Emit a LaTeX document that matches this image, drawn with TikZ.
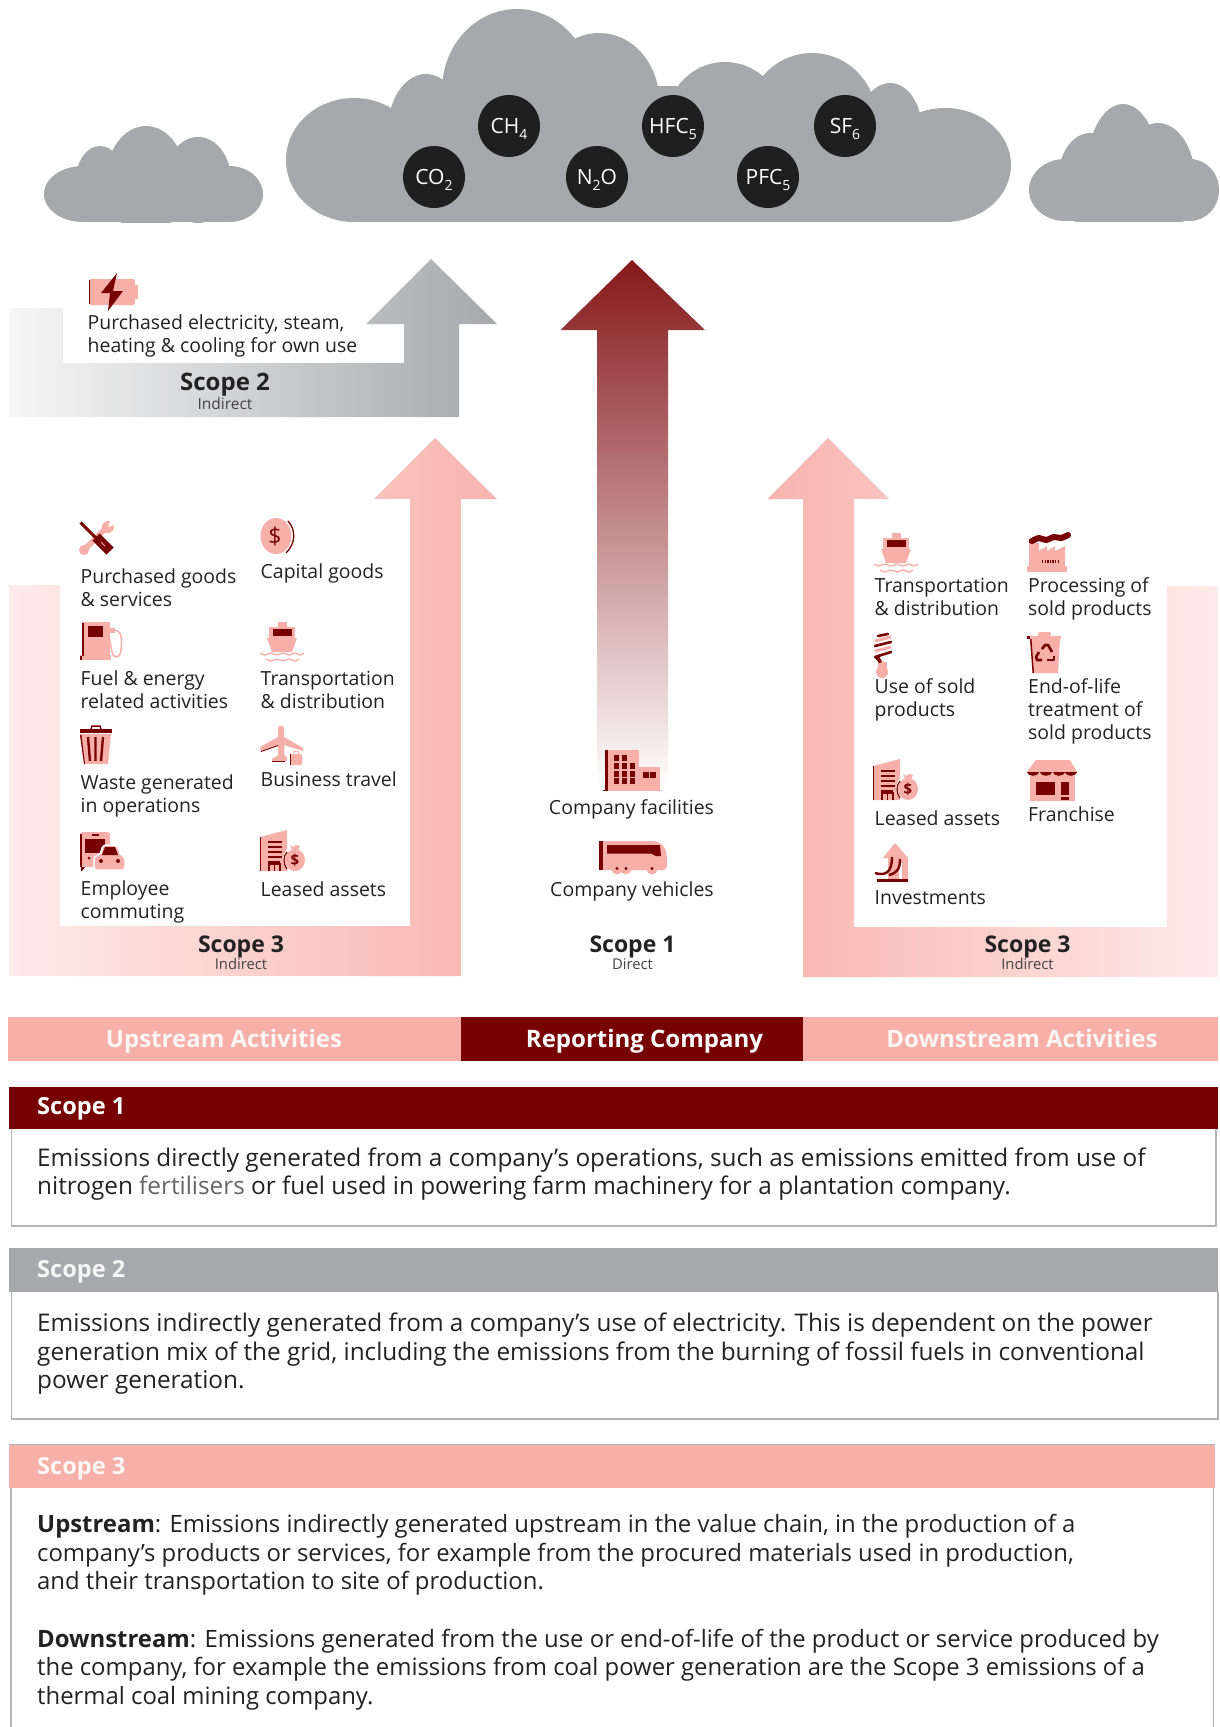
\documentclass[tikz,border=0pt]{standalone}
\usepackage{fontspec}
\setmainfont{Open Sans}
\definecolor{cpale}{HTML}{F7AFA9}
\definecolor{cdark}{HTML}{770000}
\definecolor{cshaft}{HTML}{85181B}
\definecolor{cg}{HTML}{A7A8AB}
\definecolor{tx}{HTML}{222222}
\definecolor{ln}{HTML}{B3B4B6}
\newcommand\gs[1]{\raisebox{-0.3em}[0pt][0pt]{\fontsize{14}{14}\selectfont #1}}
\tikzset{
 x=1pt,y=-1pt,
 lab/.style={anchor=base west,inner sep=0pt,align=left,text=tx,font=\fontsize{19.45}{22.6}\selectfont},
 bodytxt/.style={anchor=base west,inner sep=0pt,align=left,text=tx,font=\fontsize{24.33}{28.4}\selectfont},
 bodytxtb/.style={anchor=base west,inner sep=0pt,align=left,text=tx,font=\fontsize{23.88}{28.4}\selectfont},
 gas/.style={circle,fill=black!88,text=white,minimum size=62pt,inner sep=0pt,font=\fontsize{21}{24}\selectfont},
 scopett/.style={anchor=base,inner sep=0pt,text=tx,font=\bfseries\fontsize{23}{28}\selectfont},
 scopesub/.style={anchor=base,inner sep=0pt,text=tx!85,font=\fontsize{14.8}{18}\selectfont},
 bartxt/.style={anchor=base,inner sep=0pt,text=white,font=\bfseries\fontsize{24}{28}\selectfont},
 headtxt/.style={anchor=base west,inner sep=0pt,text=white,font=\bfseries\fontsize{23.6}{28}\selectfont},
 ibatt/.pic={
  \fill[cpale,rounded corners=2] (1,6) rectangle (47,32);
  \fill[cpale] (47,12) rectangle (50,26);
  \fill[cdark] (1,7) rectangle (2,31);
  \fill[cdark] (29,0) -- (13,20) -- (22,20) -- (20,38) -- (35,18) -- (25,18) -- cycle;
 },
 itools/.pic={
  \draw[cpale,line width=5.5,line cap=round] (3,30) -- (27,6);
  \fill[cpale] (28,6) circle (6);
  \fill[white] (28,6) -- (31,-2) -- (37,3) -- cycle;
  \fill[cpale] (4,29) circle (5);
  \draw[cdark,line width=3] (0.5,1.5) -- (18,19);
  \draw[cdark,line width=10] (16,16) -- (30,30);
  \draw[cpale,line width=1] (21,21) -- (25,25);
 },
 icoin/.pic={
  \fill[cpale] (16,18) ellipse [x radius=15.5,y radius=18];
  \draw[cdark,line width=1.3] (28,3) .. controls (36,12) and (36,25) .. (26,35);
  \node[inner sep=0pt,text=cdark,font=\fontsize{23}{23}\selectfont] (d) at (15,18) {\$};
 },
 ifuel/.pic={
  \fill[cpale] (2,0) rectangle (30,36);
  \fill[cpale] (0,33) rectangle (31,38);
  \fill[cdark] (2,1) rectangle (3.5,34);
  \fill[cdark] (0,34) rectangle (2,38);
  \fill[cdark] (8,4) rectangle (23,15);
  \fill[cpale] (28,6) rectangle (35,11);
  \draw[cpale,line width=1.5] (33,8) .. controls (43,8) and (42,18) .. (41,28) .. controls (40,38) and (33,36) .. (32,30) -- (29,14);
 },
 iship/.pic={
  \fill[cpale] (18,0) rectangle (27,6);
  \fill[cpale] (9,5) rectangle (35,17);
  \fill[cdark] (13,7) rectangle (32,14);
  \fill[cpale] (7,16) -- (37,16) -- (32,30) -- (12,30) -- cycle;
  \draw[cpale,line width=1.4] plot[smooth] coordinates {(0,31) (5,33) (11,31) (17,33) (23,31) (29,33) (35,31) (40,33) (44,31)};
  \draw[cpale,line width=1.4] plot[smooth] coordinates {(6,37) (11,39) (17,37) (23,39) (29,37) (35,39) (39,37)};
 },
 itrash/.pic={
  \draw[cdark,line width=1.5] (11,4) -- (12,1) -- (20,1) -- (21,4);
  \fill[cdark] (0,4) rectangle (32,8);
  \fill[cpale] (0,9) -- (31,9) -- (28,39) -- (4,39) -- cycle;
  \fill[cdark] (0,10) -- (1.5,10) -- (5,39) -- (4,39) -- cycle;
  \draw[cdark,line width=2.4] (8,12) -- (10,36) (15.5,12) -- (15.5,36) (23,12) -- (21,36);
 },
 iplane/.pic={
  \fill[cpale,rounded corners=2.5] (18,0) -- (21,-0.5) -- (24,0) -- (24.5,33) -- (18,33) -- cycle;
  \fill[cpale] (0,21) -- (18,11) -- (24,11) -- (43,22) -- (43,25) -- (24,19) -- (18,19) -- (1,25) -- cycle;
  \fill[cpale] (12,33) -- (20,28) -- (23,28) -- (29,33) -- (29,35) -- (12,35) -- cycle;
  \draw[cdark,line width=0.9] (1,25.5) -- (18,19.5);
  \draw[cdark,line width=0.9] (12,35.5) -- (25,35.5);
  \fill[white] (27,26) rectangle (44,41);
  \fill[cpale,rounded corners=1] (30,28) rectangle (42,39);
  \fill[cdark] (30,28) rectangle (31,39);
  \draw[cpale,line width=1] (33,28) -- (34,25.5) -- (38,25.5) -- (39,28);
 },
 icommute/.pic={
  \fill[cpale,rounded corners=3] (0,1) rectangle (30,36);
  \fill[cdark] (0,3) rectangle (2,36);
  \fill[cdark] (1,36) -- (5,36) -- (2,40) -- (1,40) -- cycle;
  \fill[cdark] (5,8) rectangle (25,22);
  \fill[cdark] (12,3) rectangle (19,5);
  \fill[cdark] (9,27) circle (1.5);
  \fill[cpale,draw=white,line width=1.5,rounded corners=3] (14,39) -- (14,25) -- (20,24) -- (23,14) -- (37,14) -- (41,24) -- (45,26) -- (45,39) -- cycle;
  \fill[cdark] (25,16) -- (35,16) -- (38,24) -- (22,24) -- cycle;
  \fill[cdark] (21,30) circle (2);
  \fill[cdark] (38,30) circle (2);
 },
 ileased/.pic={
  \fill[cpale] (0,7) -- (27,0) -- (27,41) -- (0,41) -- cycle;
  \fill[cdark] (0,7) rectangle (1,41);
  \draw[cdark,line width=1.5] (8,12) -- (22,12) (8,17) -- (22,17) (8,22) -- (22,22) (8,27) -- (22,27) (8,32) -- (20,32);
  \draw[cdark,line width=1.2] (9,41) -- (9,34) -- (20,34) -- (20,41) (14.5,34) -- (14.5,41);
  \fill[white] (35,29) ellipse [x radius=12,y radius=13];
  \fill[cpale] (35,30) ellipse [x radius=10,y radius=11];
  \fill[cpale] (30,15) -- (33,17) -- (36,15) -- (40,16) -- (37,22) -- (33,22) -- cycle;
  \draw[cdark,line width=1.2] (27,22) .. controls (23,26) and (23,34) .. (27,39);
  \node[inner sep=0pt,text=cdark,font=\bfseries\fontsize{15}{15}\selectfont] (d) at (35,30) {\$};
 },
 ifactory/.pic={
  \fill[cpale] (2,12) -- (12,12) -- (12,20) -- (20,15) -- (20,20) -- (28,15) -- (28,20) -- (38,15) -- (38,36) -- (2,36) -- cycle;
  \fill[cpale,rounded corners=1] (0,35) rectangle (40,41);
  \draw[cdark,line width=6,line cap=round] plot[smooth] coordinates {(5,10) (12,7) (19,9) (27,6) (34,7) (41,4)};
  \fill[cdark] (2,8) rectangle (6,12);
  \draw[cdark,line width=3,dash pattern=on 1.3pt off 1.3pt] (15,30) -- (33,30);
 },
 ibulb/.pic={
  \fill[cpale] (8,40) circle (6);
  \fill[cpale] (4,30) rectangle (13,38);
  \draw[cdark,line width=2.6,line cap=round] (4,4) -- (14,2);
  \draw[cpale,line width=3] (1,9) -- (17,5);
  \draw[cdark,line width=2.6,line cap=round] (1,14) -- (17,10);
  \draw[cpale,line width=3] (1,19) -- (17,15);
  \draw[cdark,line width=2.6,line cap=round] (1,25) -- (17,20);
  \fill[cdark] (1,26) -- (5,24) -- (8,30) -- (5,31) -- cycle;
 },
 irecycle/.pic={
  \fill[cpale,rounded corners=2] (11,0) rectangle (24,5);
  \fill[cpale] (0,3.5) rectangle (34,7);
  \fill[cdark] (0,3.5) rectangle (3,7);
  \fill[cpale] (3,7) -- (33,7) -- (31,41) -- (6,41) -- cycle;
  \fill[cdark] (3,7) -- (4.5,7) -- (7,41) -- (5.5,41) -- cycle;
  \draw[cdark,line width=2.6,line join=round] (15,17) -- (18,13) -- (21,13) -- (25,20);
  \draw[cdark,line width=2.6,line join=round] (27,24) -- (27,28) -- (20,28);
  \draw[cdark,line width=2.6,line join=round] (15,28) -- (10,28) -- (9,25) -- (12,20);
 },
 ifranchise/.pic={
  \fill[cpale] (9,0) -- (43,0) -- (50,12) -- (0,12) -- cycle;
  \fill[cpale] (3,13) rectangle (48,41);
  \foreach \q in {6,19,32,44}{\fill[cdark] (\q-6.3,12) -- (\q+6.3,12) .. controls (\q+5,17) and (\q-5,17) .. (\q-6.3,12) -- cycle;}
  \fill[cdark] (9,22) rectangle (28,35);
  \fill[cdark] (34,22) rectangle (42,35);
  \fill[cdark] (34,37) rectangle (42,40);
 },
 iinvest/.pic={
  \fill[cpale] (20,0) -- (33,15) -- (8,15) -- cycle;
  \fill[cpale] (13,15) rectangle (33,36);
  \fill[white] (24,20) rectangle (27,36);
  \fill[cdark] (2,36) rectangle (33,39);
  \draw[cdark,line width=2.4] (0,30) .. controls (10,33) and (17,30) .. (17,14);
  \draw[cdark,line width=2.4] (25,16) .. controls (25,26) and (22,30) .. (14,32);
 },
 ibuilding/.pic={
  \fill[cpale] (2,0) rectangle (36,40);
  \fill[cpale] (36,17) rectangle (57,40);
  \fill[cpale] (0,39.5) rectangle (59,41);
  \fill[cdark] (2,0) rectangle (5,40);
  \fill[cdark] (0,40) rectangle (5,41);
  \foreach \u/\v in {10.5/5,18.5/5,10.5/13,18.5/13,26.5/13,10.5/21,18.5/21,26.5/21,10.5/28,18.5/28,26.5/28,40/22,47/22}{\fill[cdark] (\u,\v) rectangle ++(5.5,5.5);}
 },
 ibus/.pic={
  \fill[cpale,rounded corners=4] (0,0) -- (58,0) -- (66,6) -- (68,15) -- (68,29) -- (0,29) -- cycle;
  \fill[cpale] (18,28) circle (5.5) (27,28) circle (5.5) (53,28) circle (5.5);
  \fill[cdark] (0,0) rectangle (4,29);
  \fill[cdark] (8,4) -- (61,4) -- (62,15) -- (57,15) -- (52,12.5) -- (8,12.5) -- cycle;
  \fill[cdark] (18,27.5) circle (1.7) (27,27.5) circle (1.7) (53,27.5) circle (1.7);
 }
}
\begin{document}
\begin{tikzpicture}
\useasboundingbox (0,0) rectangle (1219,1727);
% clouds
\begin{scope}
\clip (275,0) rectangle (1020,222);
\fill[cg] (354,160) ellipse [x radius=68,y radius=62]
 (426,130) ellipse [x radius=38,y radius=56]
 (517,90) ellipse [x radius=75,y radius=81]
 (599,100) ellipse [x radius=60,y radius=67]
 (725,120) ellipse [x radius=58,y radius=58]
 (812,120) ellipse [x radius=65,y radius=67]
 (890,130) ellipse [x radius=32,y radius=47]
 (945,165) ellipse [x radius=66,y radius=57];
\fill[cg] (358,150) rectangle (945,222);
\fill[cg] (395,118) rectangle (915,160);
\fill[cg] (655,86) rectangle (677,120);
\end{scope}
\begin{scope}
\clip (0,0) rectangle (270,222);
\fill[cg] (83,194) ellipse [x radius=39,y radius=28]
 (100,180) ellipse [x radius=24,y radius=34]
 (146,180) ellipse [x radius=40,y radius=54]
 (198,180) ellipse [x radius=33,y radius=43]
 (229,194) ellipse [x radius=34,y radius=28];
\fill[cg] (83,180) rectangle (229,222);
\end{scope}
\begin{scope}
\clip (1020,90) rectangle (1219,221);
\fill[cg] (1065,190) ellipse [x radius=36,y radius=31]
 (1090,180) ellipse [x radius=32,y radius=47]
 (1123,170) ellipse [x radius=36,y radius=66]
 (1158,180) ellipse [x radius=37,y radius=57]
 (1190,190) ellipse [x radius=29,y radius=31];
\fill[cg] (1065,170) rectangle (1190,221);
\end{scope}
\node[gas] (co2) at (434,177) {CO\gs{2}};
\node[gas] (ch4) at (509,126) {CH\gs{4}};
\node[gas] (n2o) at (597,177) {N\gs{2}O};
\node[gas] (hfc) at (673,126) {HFC\gs{5}};
\node[gas] (pfc) at (768,177) {PFC\gs{5}};
\node[gas] (sf6) at (845,126) {SF\gs{6}};
% arrows
\shade[left color=cg!10,right color=cg] (9,308) -- (63,308) -- (63,363) -- (404,363) -- (404,324) -- (366,324) -- (431,259) -- (497,324) -- (459,324) -- (459,417) -- (9,417) -- cycle;
\shade[top color=cshaft,bottom color=white] (597,790) -- (597,330) -- (560.5,330) -- (632,260) -- (705,330) -- (668,330) -- (668,790) -- cycle;
\shade[left color=cpale!25,right color=cpale!93] (9,585) -- (60,585) -- (60,926) -- (410,926) -- (410,499) -- (374,499) -- (435,438) -- (497,499) -- (461,499) -- (461,976) -- (9,976) -- cycle;
\shade[left color=cpale!93,right color=cpale!25] (1218,586) -- (1167,586) -- (1167,927) -- (854,927) -- (854,499) -- (889,499) -- (828,438) -- (767.5,499) -- (803,499) -- (803,977) -- (1218,977) -- cycle;
% scope labels
\node[scopett,font=\bfseries\fontsize{24}{28}\selectfont] (s2t) at (225,390) {Scope 2};
\node[scopesub,font=\fontsize{15.5}{18}\selectfont] (s2s) at (225,409) {Indirect};
\node[scopett] (s3lt) at (241,952) {Scope 3};
\node[scopesub] (s3ls) at (241,969) {Indirect};
\node[scopett] (s1t) at (632.5,952) {Scope 1};
\node[scopesub] (s1s) at (632.5,969) {Direct};
\node[scopett] (s3rt) at (1027.5,952) {Scope 3};
\node[scopesub] (s3rs) at (1027.5,969) {Indirect};
% icons
\pic (a1) at (88,273) {ibatt};
\pic (a2) at (80,521) {itools};
\pic (a3) at (260,518) {icoin};
\pic (a4) at (80,622) {ifuel};
\pic (a5) at (260,622) {iship};
\pic (a6) at (80,725) {itrash};
\pic (a7) at (260,726) {iplane};
\pic (a8) at (80,831) {icommute};
\pic (a9) at (260,830) {ileased};
\pic (b1) at (874,533) {iship};
\pic (b2) at (1027,531) {ifactory};
\pic (b3) at (874,632) {ibulb};
\pic (b4) at (1027,632) {irecycle};
\pic (b5) at (873,759) {ileased};
\pic (b6) at (1027,760) {ifranchise};
\pic (b7) at (875,843) {iinvest};
\pic (c1) at (603,750) {ibuilding};
\pic (c2) at (599,841) {ibus};
% labels
\node[lab] (t0) at (87.5,352) {Purchased electricity, steam,\\heating \& cooling for own use};
\node[lab] (t1) at (80.5,606) {Purchased goods\\\& services};
\node[lab] (t2) at (260.5,578) {Capital goods};
\node[lab] (t3) at (80.5,708) {Fuel \& energy\\related activities};
\node[lab] (t4) at (260.5,708) {Transportation\\\& distribution};
\node[lab] (t5) at (80.5,812) {Waste generated\\in operations};
\node[lab] (t6) at (260.5,786) {Business travel};
\node[lab] (t7) at (80.5,918) {Employee\\commuting};
\node[lab] (t8) at (260.5,896) {Leased assets};
\node[lab] (r1) at (874.5,615) {Transportation\\\& distribution};
\node[lab] (r2) at (1028,615) {Processing of\\sold products};
\node[lab] (r3) at (874.5,716) {Use of sold\\products};
\node[lab] (r4) at (1028,739) {End-of-life\\treatment of\\sold products};
\node[lab] (r5) at (874.5,825) {Leased assets};
\node[lab] (r6) at (1028,821) {Franchise};
\node[lab] (r7) at (874.5,904) {Investments};
\node[lab,anchor=base] (m1) at (631.5,814) {Company facilities};
\node[lab,anchor=base] (m2) at (632,896) {Company vehicles};
% bars
\fill[cpale] (8,1017) rectangle (461,1061);
\fill[cdark] (461,1017) rectangle (803,1061);
\fill[cpale] (803,1017) rectangle (1218,1061);
\node[bartxt,text=white!88!cpale] (b_up) at (224,1047) {Upstream Activities};
\node[bartxt] (b_rc) at (644.5,1047) {Reporting Company};
\node[bartxt,text=white!88!cpale] (b_dn) at (1022,1047) {Downstream Activities};
% panels
\draw[ln,line width=1.4] (11.5,1129) -- (11.5,1226) -- (1216,1226) -- (1216,1129);
\fill[cdark] (9,1087) rectangle (1218,1129);
\node[headtxt] (h1) at (37,1114) {Scope 1};
\node[bodytxt] (p1) at (37,1194.5) {Emissions directly generated from a company’s operations, such as emissions emitted from use of\\nitrogen {\color{black!60}fertilisers} or fuel used in powering farm machinery for a plantation company.};
\draw[ln,line width=1.4] (11.5,1292) -- (11.5,1419) -- (1218,1419) -- (1218,1292);
\fill[cg] (9,1248) rectangle (1218,1292);
\node[headtxt,text=white!90!cg] (h2) at (37,1277) {Scope 2};
\node[bodytxt] (p2) at (37,1388.5) {Emissions indirectly generated from a company’s use of electricity. This is dependent on the power\\generation mix of the grid, including the emissions from the burning of fossil fuels in conventional\\power generation.};
\draw[ln,line width=1.4] (11,1488) -- (11,1727) (1213.5,1488) -- (1213.5,1727);
\draw[ln,line width=1] (9,1444) -- (1215,1444);
\fill[cpale] (9,1444.5) rectangle (1215,1488);
\node[headtxt,text=white!90!cpale] (h3) at (37,1474) {Scope 3};
\node[bodytxtb] (p3) at (37,1589.5) {\textbf{Upstream}: Emissions indirectly generated upstream in the value chain, in the production of a\\company’s products or services, for example from the procured materials used in production,\\and their transportation to site of production.};
\node[bodytxtb] (p4) at (37,1704) {\textbf{Downstream}: Emissions generated from the use or end-of-life of the product or service produced by\\the company, for example the emissions from coal power generation are the Scope 3 emissions of a\\thermal coal mining company.};
\end{tikzpicture}
\end{document}
